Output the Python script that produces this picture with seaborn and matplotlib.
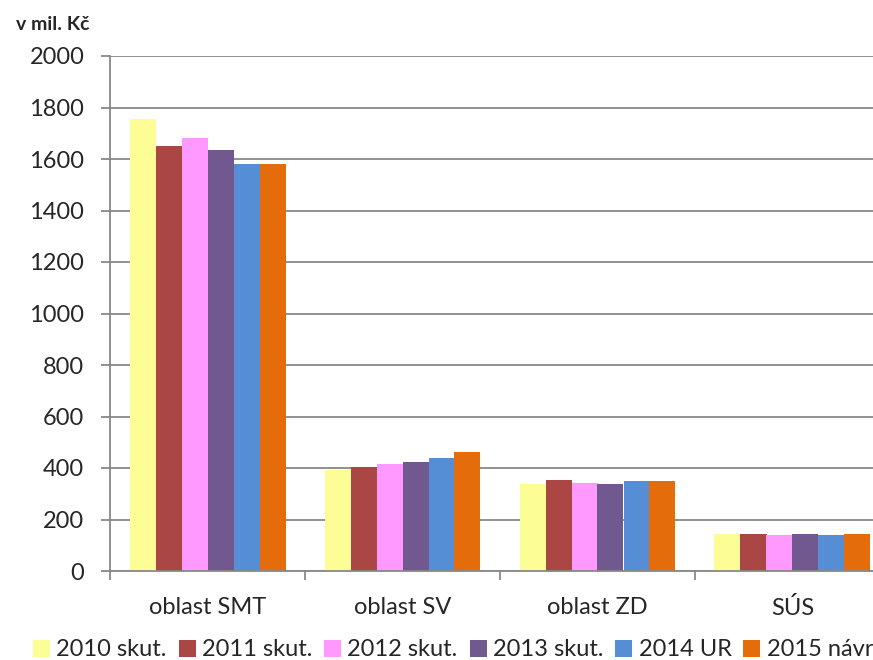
import matplotlib
matplotlib.use("Agg")
import matplotlib.pyplot as plt
import seaborn as sns
import pandas as pd
from matplotlib.patches import Patch

categories = ["oblast SMT", "oblast SV", "oblast ZD", "SÚS"]
series = ["2010 skut.", "2011 skut.", "2012 skut.", "2013 skut.", "2014 UR", "2015 návrh"]
values = {
    "2010 skut.": [1755, 393, 338, 144],
    "2011 skut.": [1650, 404, 355, 145],
    "2012 skut.": [1682, 414, 342, 141],
    "2013 skut.": [1635, 423, 337, 144],
    "2014 UR":    [1580, 438, 348, 141],
    "2015 návrh": [1580, 462, 350, 144],
}
colors = ["#FDFD96", "#AA4643", "#FF99FF", "#71588F", "#558ED5", "#E46C0A"]
yticks = list(range(0, 2001, 200))

rows = []
for s in series:
    for c, v in zip(categories, values[s]):
        rows.append({"cat": c, "series": s, "val": v})
df = pd.DataFrame(rows)

sns.set_style("white")
plt.rcParams["font.family"] = ["Lato", "DejaVu Sans"]

fig = plt.figure(figsize=(8.73, 6.6), dpi=100)
ax = fig.add_axes([110/873, 1-571/660, 780/873, (571-56)/660])

sns.barplot(data=df, x="cat", y="val", hue="series", order=categories,
            hue_order=series, palette=colors, width=0.8, ax=ax,
            saturation=1, legend=False, linewidth=0)

ax.set_ylim(0, 2000)
ax.set_xlim(-0.5, 3.5)
ax.set_yticks(yticks)
ax.set_yticklabels([str(t) for t in yticks], fontsize=17)
ax.yaxis.grid(True, color="#888888", linewidth=1.3)
ax.set_axisbelow(True)
ax.set_xlabel("")
ax.set_ylabel("")
for sp in ["top", "right"]:
    ax.spines[sp].set_visible(False)
for sp in ["left", "bottom"]:
    ax.spines[sp].set_color("#888888")
    ax.spines[sp].set_linewidth(1.3)
ax.tick_params(axis="y", length=6.5, color="#888888", width=1.3, pad=12, left=True)
ax.set_xticks(range(len(categories)))
ax.set_xticklabels(categories, fontsize=17)
ax.tick_params(axis="x", which="major", length=0, pad=19)
ax.set_xticks([-0.5, 0.5, 1.5, 2.5, 3.5], minor=True)
ax.tick_params(axis="x", which="minor", length=6.5, color="#888888", width=1.3, bottom=True)

fig.text(16/873, 1-24/660, "v mil. Kč", fontsize=14, fontweight="bold", va="center", ha="left")

handles = [Patch(facecolor=c, edgecolor="none", label=s) for s, c in zip(series, colors)]
fig.legend(handles=handles, loc="center left", bbox_to_anchor=(33/873, 1-650/660),
           ncol=6, frameon=False, fontsize=17, handlelength=0.72, handleheight=0.72,
           handletextpad=0.27, columnspacing=0.5, borderaxespad=0, borderpad=0)

fig.savefig("out.png", dpi=100)
